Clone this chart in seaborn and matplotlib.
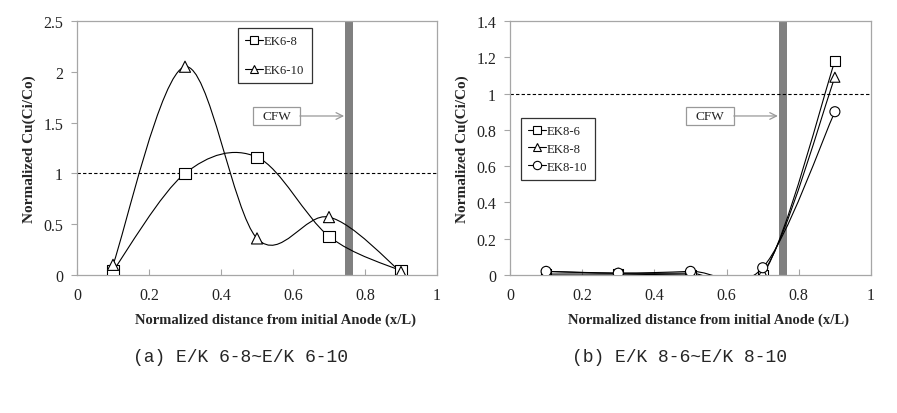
import numpy as np
import pandas as pd
import matplotlib
matplotlib.use("Agg")
import matplotlib.pyplot as plt
import seaborn as sns
from matplotlib.path import Path
from matplotlib.patches import PathPatch, Rectangle
from matplotlib.lines import Line2D

# ---------------- data ----------------
x_pos = [0.1, 0.3, 0.5, 0.7, 0.9]

ek6_8 = [0.04, 1.00, 1.16, 0.38, 0.04]
ek6_10 = [0.10, 2.05, 0.36, 0.57, 0.03]

ek8_6 = [0.005, 0.005, 0.0, 0.0, 1.18]
ek8_8 = [0.02, 0.01, 0.01, 0.01, 1.09]
ek8_10 = [0.02, 0.01, 0.02, 0.04, 0.90]

left_series = ["EK6-8", "EK6-10"]
right_series = ["EK8-6", "EK8-8", "EK8-10"]

left_yticks = [0, 0.5, 1, 1.5, 2, 2.5]
left_ylabels = ["0", "0.5", "1", "1.5", "2", "2.5"]
right_yticks = [0, 0.2, 0.4, 0.6, 0.8, 1.0, 1.2, 1.4]
right_ylabels = ["0", "0.2", "0.4", "0.6", "0.8", "1", "1.2", "1.4"]
xticks = [0, 0.2, 0.4, 0.6, 0.8, 1.0]
xlabels = ["0", "0.2", "0.4", "0.6", "0.8", "1"]

cfw_x = (0.745, 0.767)
caption_a = "(a) E/K 6-8~E/K 6-10"
caption_b = "(b) E/K 8-6~E/K 8-10"
xlabel = "Normalized distance from initial Anode (x/L)"
ylabel = "Normalized Cu(Ci/Co)"

# ---------------- style ----------------
sns.set_theme(style="white")
plt.rcParams["font.family"] = ["Liberation Serif", "DejaVu Serif"]

SPINE = "#a6a6a6"
MARK = {"EK6-8": "s", "EK6-10": "^", "EK8-6": "s", "EK8-8": "^", "EK8-10": "o"}


def smooth_path(xs, ys):
    pts = np.column_stack([xs, ys]).astype(float)
    n = len(pts)
    verts = [pts[0]]
    codes = [Path.MOVETO]
    for i in range(n - 1):
        p0 = pts[i - 1] if i > 0 else pts[i]
        p1 = pts[i]
        p2 = pts[i + 1]
        p3 = pts[i + 2] if i + 2 < n else pts[i + 1]
        c1 = p1 + (p2 - p0) / 6.0
        c2 = p2 - (p3 - p1) / 6.0
        verts += [c1, c2, p2]
        codes += [Path.CURVE4] * 3
    return Path(verts, codes)


def style_axes(ax, yticks, ylabels, ymax, xlab_pos):
    ax.set_xlim(0, 1)
    ax.set_ylim(0, ymax)
    ax.set_xticks(xticks)
    ax.set_xticklabels(xlabels)
    ax.set_yticks(yticks)
    ax.set_yticklabels(ylabels)
    for s in ax.spines.values():
        s.set_color(SPINE)
        s.set_linewidth(0.9)
        s.set_visible(True)
    ax.tick_params(axis="x", direction="in", length=4, width=0.8, color=SPINE,
                   labelsize=11.5, pad=9, labelcolor="#222222", bottom=True)
    ax.tick_params(axis="y", direction="out", length=4, width=0.8, color=SPINE,
                   labelsize=11.5, pad=6, labelcolor="#222222", left=True)
    ax.set_xlabel(xlabel, fontsize=10.5, fontweight="bold")
    ax.xaxis.set_label_coords(xlab_pos, -0.148)
    ax.set_ylabel(ylabel, fontsize=11, fontweight="bold", labelpad=5)
    ax.axhline(1.0, color="black", lw=0.8, ls=(0, (3, 2)), zorder=2)
    ax.axvspan(cfw_x[0], cfw_x[1], color="#808080", lw=0, zorder=1)


def draw_series(ax, names, values, ms):
    df = pd.DataFrame({
        "x": np.tile(x_pos, len(names)),
        "y": np.concatenate(values),
        "series": np.repeat(names, len(x_pos)),
    })
    for name, vals in zip(names, values):
        ax.add_patch(PathPatch(smooth_path(x_pos, vals), fill=False,
                               edgecolor="black", lw=0.8, zorder=3))
    sns.scatterplot(data=df, x="x", y="y", style="series",
                    markers={n: MARK[n] for n in names}, s=ms,
                    color="white", edgecolor="black", linewidth=0.8,
                    legend=False, zorder=4, ax=ax)


def cfw_box(ax, x0, x1, y0, y1):
    ax.add_patch(Rectangle((x0, y0), x1 - x0, y1 - y0, facecolor="white",
                           edgecolor="#999999", lw=0.9, zorder=5))
    ax.text((x0 + x1) / 2, (y0 + y1) / 2, "CFW", ha="center", va="center",
            fontsize=9.5, color="#222222", zorder=6)
    ax.annotate("", xy=(0.742, (y0 + y1) / 2), xytext=(x1, (y0 + y1) / 2),
                arrowprops=dict(arrowstyle="->", color="#999999", lw=0.9,
                                shrinkA=0, shrinkB=0), zorder=5)


def legend(ax, names, anchor, spacing):
    handles = [Line2D([], [], color="black", lw=0.8, marker=MARK[n], mfc="white",
                      mec="black", mew=0.8, ms=6) for n in names]
    leg = ax.legend(handles, names, loc="upper left", bbox_to_anchor=anchor,
                    frameon=True, fancybox=False, edgecolor="black",
                    fontsize=9.2, handlelength=1.4, handletextpad=0.1,
                    labelspacing=spacing, borderpad=0.55, borderaxespad=0)
    leg.get_frame().set_linewidth(0.9)
    for t in leg.get_texts():
        t.set_color("#222222")
    leg.set_zorder(7)


fig = plt.figure(figsize=(8.97, 4.14), dpi=100)
ax1 = fig.add_axes([77 / 897, 138 / 414, 360 / 897, 254 / 414])
ax2 = fig.add_axes([510 / 897, 138 / 414, 361 / 897, 254 / 414])

style_axes(ax1, left_yticks, left_ylabels, 2.5, 0.55)
draw_series(ax1, left_series, [ek6_8, ek6_10], 64)
cfw_box(ax1, 0.489, 0.619, 1.476, 1.654)
legend(ax1, left_series, (0.447, 0.972), 1.35)

style_axes(ax2, right_yticks, right_ylabels, 1.4, 0.551)
draw_series(ax2, right_series, [ek8_6, ek8_8, ek8_10], 52)
cfw_box(ax2, 0.488, 0.620, 0.827, 0.926)
legend(ax2, right_series, (0.030, 0.618), 0.45)

fig.text(133 / 897, 1 - 357 / 414, caption_a, ha="left", va="center",
         fontsize=13, family=["Liberation Mono", "DejaVu Sans Mono"])
fig.text(572 / 897, 1 - 357 / 414, caption_b, ha="left", va="center",
         fontsize=13, family=["Liberation Mono", "DejaVu Sans Mono"])

fig.savefig("out.png", dpi=100)
